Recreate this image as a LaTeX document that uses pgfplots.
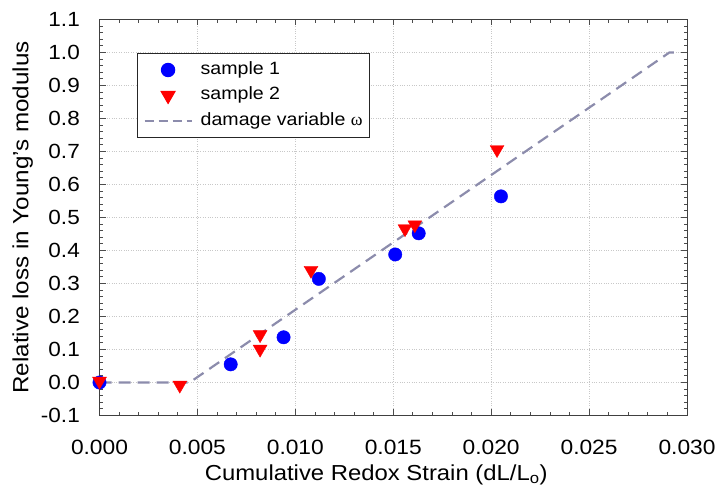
\documentclass[border=0pt]{standalone}
\usepackage{fontspec}
\setmainfont{Liberation Sans}[FakeStretch=1.1]
\newfontfamily\greekserif{Liberation Serif}
\usepackage{pgfplots}
\pgfplotsset{compat=1.18}

\definecolor{dmgline}{RGB}{140,140,172}
\definecolor{gridc}{RGB}{200,200,200}

\begin{document}
\begin{tikzpicture}
% page frame: axis box sits 99.5pt from the left and 76.5pt from the bottom
\path[use as bounding box] (-99.5pt,-76.5pt) rectangle (617.5pt,415.5pt);
\begin{axis}[
    scale only axis,
    width=587.5pt, height=396pt,
    xmin=0, xmax=0.030,
    ymin=-0.1, ymax=1.1,
    xtick={0,0.005,0.01,0.015,0.02,0.025,0.03},
    ytick={-0.1,0,0.1,0.2,0.3,0.4,0.5,0.6,0.7,0.8,0.9,1.0,1.1},
    minor x tick num=4,
    minor y tick num=4,
    scaled x ticks=false,
    tick align=inside,
    major tick length=6pt,
    minor tick length=3.5pt,
    every tick/.style={black!70, line width=0.8pt},
    axis line style={black!75, line width=1pt},
    grid=major,
    major grid style={gridc, dotted, line width=0.8pt},
    xticklabel style={font=\fontsize{20.7}{24}\selectfont, inner sep=0pt,
        anchor=north,
        /pgf/number format/.cd, fixed, fixed zerofill, precision=3, assume math mode=true},
    yticklabel style={font=\fontsize{20.5}{24}\selectfont, inner sep=0pt,
        anchor=east,
        /pgf/number format/.cd, fixed, fixed zerofill, precision=1, assume math mode=true},
    xticklabel shift=24pt,
    yticklabel shift=19.5pt,
    xlabel={Cumulative Redox Strain (dL/L\textsubscript{o})},
    ylabel={Relative loss in Young's modulus},
    xlabel style={font=\fontsize{21.7}{24}\selectfont, inner sep=0pt,
        at={(axis description cs:0.5,0)}, anchor=base, yshift=-64.5pt, xshift=-17pt},
    ylabel style={font=\fontsize{22}{24}\selectfont, inner sep=0pt,
        at={(axis description cs:-0.1209,0.5)}, anchor=base},
    legend image code/.code={
        \draw[mark repeat=2, mark phase=2, #1]
            plot coordinates {(0pt,0pt) (23.5pt,0pt) (47pt,0pt)};},
    legend cell align=left,
    legend style={
        at={(0.0638,0.9154)}, anchor=north west,
        draw=black!85, line width=1pt, fill=white,
        inner xsep=6pt, inner ysep=7pt,
        row sep=6.5pt, column sep=7pt,
        font=\fontsize{17.8}{21}\selectfont,
        nodes={inner sep=1pt, text height=13pt, text depth=4pt}},
]
% damage variable omega, drawn under the markers
\addplot[dmgline, line width=2.2pt, dash pattern=on 12pt off 7pt, forget plot]
    coordinates {(0,0) (0.0046,0) (0.0291,1.0) (0.0296,1.0)};

% sample 1
\addplot[only marks, mark=*, mark size=6.7pt, blue, mark options={fill=blue, draw=blue}]
    coordinates {
    (0.0000,0.000)
    (0.0067,0.055)
    (0.0094,0.137)
    (0.0112,0.314)
    (0.0151,0.388)
    (0.0163,0.452)
    (0.0205,0.564)
    };
\addlegendentry{sample 1}

% sample 2
\addplot[only marks, mark=triangle*, mark size=8pt, red,
    mark options={fill=red, draw=red, rotate=180}]
    coordinates {
    (0.0000,0.004)
    (0.0041,-0.008)
    (0.0082,0.145)
    (0.0082,0.101)
    (0.0108,0.340)
    (0.0156,0.466)
    (0.0161,0.478)
    (0.0203,0.706)
    };
\addlegendentry{sample 2}

\addlegendimage{dmgline, line width=2.2pt, dash pattern=on 9pt off 5pt}
\addlegendentry{damage variable {\greekserif ω}}
\end{axis}
\end{tikzpicture}
\end{document}
